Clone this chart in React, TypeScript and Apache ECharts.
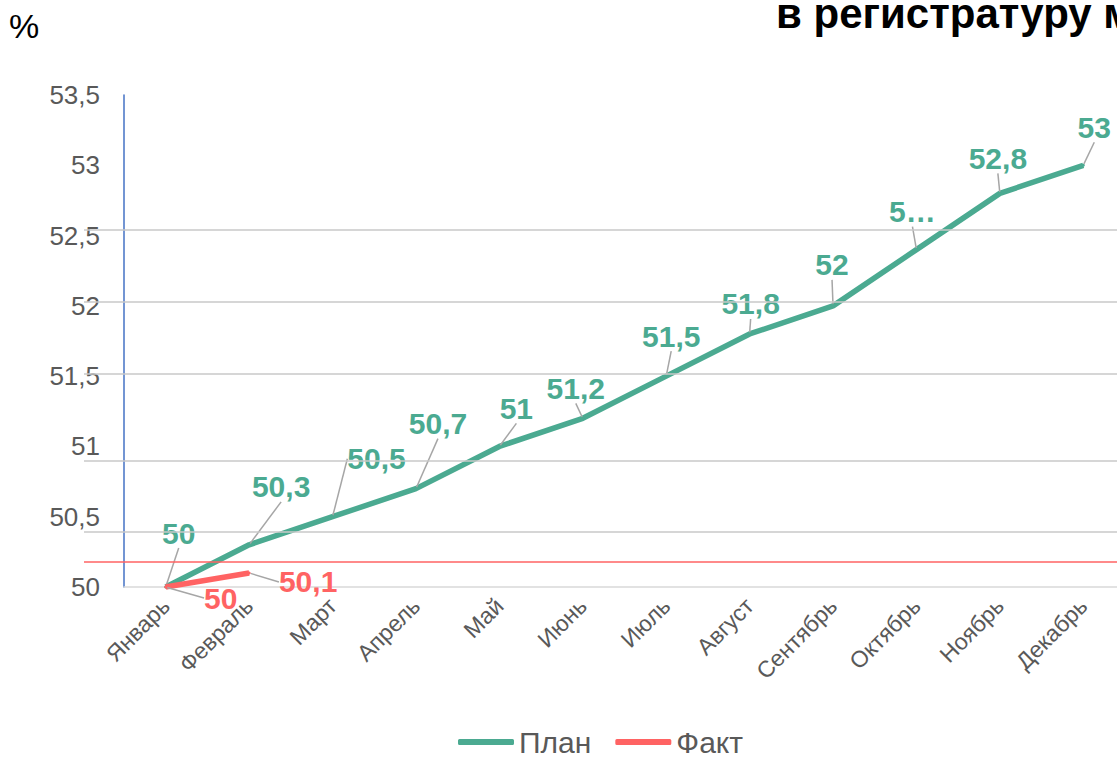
import React, { useEffect, useRef } from 'react';
import * as echarts from 'echarts';

const categories = ['Январь', 'Февраль', 'Март', 'Апрель', 'Май', 'Июнь', 'Июль', 'Август', 'Сентябрь', 'Октябрь', 'Ноябрь', 'Декабрь'];
const planValues = [50, 50.3, 50.5, 50.7, 51, 51.2, 51.5, 51.8, 52, 52.4, 52.8, 53];
const factValues = [50, 50.1];
const planLabels = ['50', '50,3', '50,5', '50,7', '51', '51,2', '51,5', '51,8', '52', '5…', '52,8', '53'];
const factLabels = ['50', '50,1'];
const yMin = 50;
const yMax = 53.5;
const yInterval = 0.5;
const gridLevels = [52.54, 52.03, 51.52, 50.9, 50.39];
const refLevel = 50.18;
const seriesNames = ['План', 'Факт'];
const titleText = 'в регистратуру м';
const unitText = '%';

// label placement (pixel offsets from each point)
const planLabelOffsets = [[13, -54], [32, -58], [44, -58], [22, -65], [17, -38], [-7, -30], [5, -40], [1, -30], [-1, -41], [-4, -38], [-2, -35], [11, -38]];
const factLabelOffsets = [[55, 11], [59, 9]];

const TEAL = '#4BAA91';
const RED = '#FF6363';
const FONT = '"Liberation Sans", Arial, sans-serif';

export default function App() {
  const ref = useRef<HTMLDivElement>(null);
  useEffect(() => {
    if (!ref.current) return;
    const chart = echarts.init(ref.current, undefined, { renderer: 'svg' });
    const fmt = (v: number) => String(v).replace('.', ',');
    const layoutFor = (offsets: number[][]) => (p: any) => {
      const o = offsets[p.dataIndex] || [0, -30];
      const cx = p.rect.x + p.rect.width / 2;
      const cy = p.rect.y + p.rect.height / 2;
      return { x: cx + o[0], y: cy + o[1], align: 'center', verticalAlign: 'middle' };
    };
    chart.setOption({
      animation: false,
      backgroundColor: '#ffffff',
      textStyle: { fontFamily: FONT },
      title: {
        text: titleText,
        left: 771,
        top: -13,
        textStyle: { fontSize: 42, fontWeight: 'bold', color: '#000000', fontFamily: FONT },
      },
      graphic: [
        { type: 'text', left: 9, top: 9, style: { text: unitText, fontSize: 34, fill: '#000000', fontFamily: FONT } },
      ],
      legend: {
        data: seriesNames,
        top: 722,
        left: 453,
        icon: 'roundRect',
        itemWidth: 56,
        itemHeight: 6,
        itemGap: 24,
        textStyle: { fontSize: 30, color: '#595959', fontFamily: FONT },
      },
      grid: [
        { left: 124, right: 0, top: 95, bottom: 171, containLabel: false },
        { left: 84, right: 0, top: 95, bottom: 171, containLabel: false },
      ],
      xAxis: [
        {
          type: 'category',
          data: categories,
          gridIndex: 0,
          boundaryGap: true,
          axisLine: { show: true, lineStyle: { color: '#D9D9D9', width: 1.5 } },
          axisTick: { show: false },
          splitLine: { show: false },
          axisLabel: { rotate: 45, fontSize: 23, color: '#595959', margin: 15, fontFamily: FONT },
        },
        { type: 'value', gridIndex: 1, min: 0, max: 1, show: false },
      ],
      yAxis: [
        {
          type: 'value',
          gridIndex: 0,
          min: yMin,
          max: yMax,
          interval: yInterval,
          axisLine: { show: true, lineStyle: { color: '#4472C4', width: 1.5 } },
          axisTick: { show: false },
          splitLine: { show: false },
          axisLabel: {
            fontSize: 26,
            color: '#595959',
            margin: 24,
            fontFamily: FONT,
            formatter: (v: number) => fmt(v),
          },
        },
        { type: 'value', gridIndex: 1, min: yMin, max: yMax, show: false },
      ],
      series: [
        {
          type: 'line',
          xAxisIndex: 1,
          yAxisIndex: 1,
          data: [[0, yMin]],
          symbol: 'none',
          itemStyle: { color: '#C8C8C8' },
          lineStyle: { width: 0 },
          silent: true,
          z: 1,
          markLine: {
            silent: true,
            symbol: 'none',
            label: { show: false },
            lineStyle: { color: '#C8C8C8', width: 1.5, type: 'solid' },
            data: [
              ...gridLevels.map((v) => ({ yAxis: v })),
              { yAxis: refLevel, lineStyle: { color: RED, width: 1.5, type: 'solid', opacity: 1 } },
            ],
          },
        },
        {
          name: seriesNames[0],
          type: 'line',
          data: planValues,
          z: 3,
          symbol: 'circle',
          symbolSize: 3,
          showSymbol: true,
          itemStyle: { color: TEAL },
          lineStyle: { color: TEAL, width: 5.5 },
          label: {
            show: true,
            position: 'top',
            formatter: (p: any) => planLabels[p.dataIndex],
            fontSize: 30,
            fontWeight: 'bold',
            color: TEAL,
            fontFamily: FONT,
          },
          labelLine: { show: true, lineStyle: { color: '#A6A6A6', width: 1.5 } },
          labelLayout: layoutFor(planLabelOffsets),
        },
        {
          name: seriesNames[1],
          type: 'line',
          data: factValues,
          z: 4,
          symbol: 'circle',
          symbolSize: 3,
          showSymbol: true,
          itemStyle: { color: RED },
          lineStyle: { color: RED, width: 5.5 },
          label: {
            show: true,
            position: 'top',
            formatter: (p: any) => factLabels[p.dataIndex],
            fontSize: 30,
            fontWeight: 'bold',
            color: RED,
            fontFamily: FONT,
          },
          labelLine: { show: true, lineStyle: { color: '#A6A6A6', width: 1.5 } },
          labelLayout: layoutFor(factLabelOffsets),
        },
      ],
    });
    return () => chart.dispose();
  }, []);
  return (
    <div style={{ position: 'fixed', left: 0, top: 0, width: 1117, height: 758, overflow: 'hidden', background: '#fff' }}>
      <div ref={ref} style={{ width: 1125, height: 758 }} />
    </div>
  );
}
